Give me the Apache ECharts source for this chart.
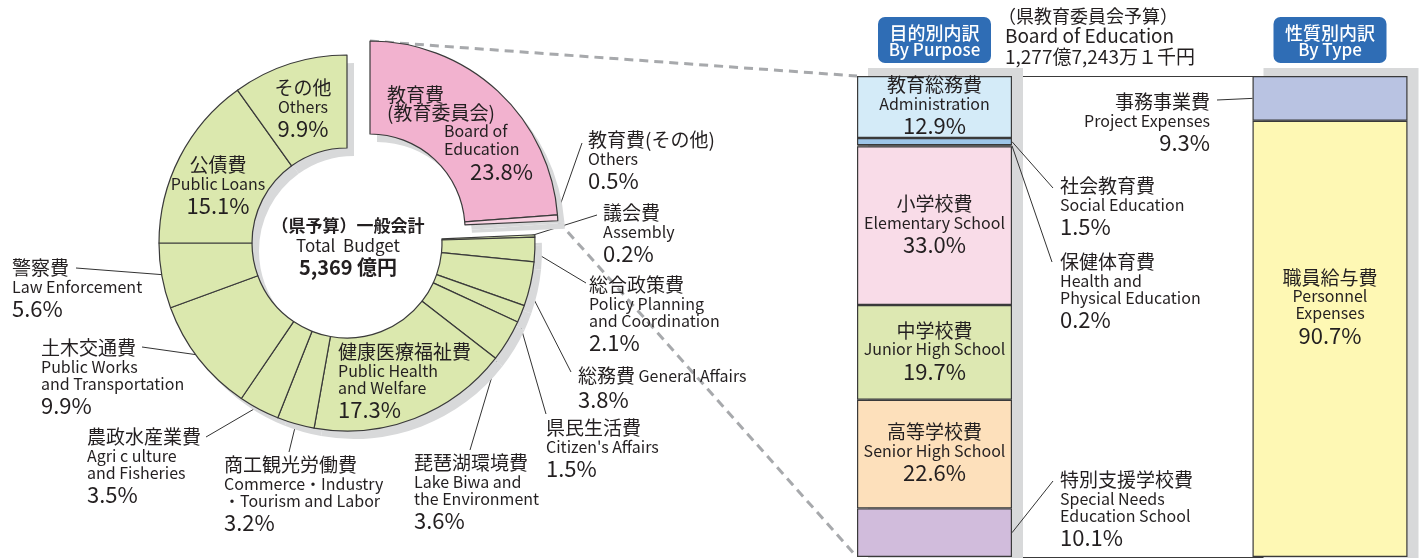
<!DOCTYPE html>
<html><head><meta charset="utf-8">
<script src="https://cdn.jsdelivr.net/npm/echarts@6/dist/echarts.min.js"></script>
<style>html,body{margin:0;padding:0;background:#fff}#c{width:1421px;height:558px}</style>
</head><body><div id="c"></div>
<script>
// ---------------- data ----------------
const pieJa = ['教育費\n(教育委員会)', '教育費(その他)', '議会費', '総合政策費', '総務費', '県民生活費', '琵琶湖環境費', '健康医療福祉費', '商工観光労働費', '農政水産業費', '土木交通費', '警察費', '公債費', 'その他'];
const pieEn = ['Board of\nEducation', 'Others', 'Assembly', 'Policy Planning\nand Coordination', 'General Affairs', "Citizen's Affairs", 'Lake Biwa and\nthe Environment', 'Public Health\nand Welfare', 'Commerce・Industry\n・Tourism and Labor', 'Agri c ulture\nand Fisheries', 'Public Works\nand Transportation', 'Law Enforcement', 'Public Loans', 'Others'];
const pieValues = [23.8, 0.5, 0.2, 2.1, 3.8, 1.5, 3.6, 17.3, 3.2, 3.5, 9.9, 5.6, 15.1, 9.9];
const educationCount = 2; // first items belong to the Board of Education slice group

const purposeJa = ['教育総務費', '社会教育費', '保健体育費', '小学校費', '中学校費', '高等学校費', '特別支援学校費'];
const purposeEn = ['Administration', 'Social Education', 'Health and\nPhysical Education', 'Elementary School', 'Junior High School', 'Senior High School', 'Special Needs\nEducation School'];
const purposeValues = [12.9, 1.5, 0.2, 33.0, 19.7, 22.6, 10.1];

const typeJa = ['事務事業費', '職員給与費'];
const typeEn = ['Project Expenses', 'Personnel\nExpenses'];
const typeValues = [9.3, 90.7];

const barCategories = ['目的別', '性質別'];
const centerTitle = ['（県予算）一般会計', 'Total  Budget', '5,369 億円'];
const boardTitle = ['（県教育委員会予算）', 'Board of Education', '1,277億7,243万１千円'];
const headerPurpose = ['目的別内訳', 'By Purpose'];
const headerType = ['性質別内訳', 'By Type'];

// ---------------- styles / layout ----------------
const FONT = '"Noto Sans CJK JP", "Noto Sans", sans-serif';
const TXT = '#231f20';
const EDGE = '#3a3a3a';
const GREEN = '#dbe8ae';
const PINKS = ['#f2b2cf', '#f8d2e2'];
const SHADOW = '#d8d9da';
const CLEAR = 'rgba(0,0,0,0)';
const PIE_C = [347, 243];
const PINK_C = [370, 229];
const SH = [7, 8];
const RADII = [95, 188];
const ANCHOR_R = 183;
const purposeColors = ['#d4ebf8', '#9ec5e8', '#6f8fb0', '#f9dce8', '#dde8b2', '#fde0bb', '#d1bcdc'];
const typeColors = ['#b9c3e2', '#fef8b4'];

const rich = {
  j: {fontFamily: FONT, fontSize: 19, lineHeight: 21, color: TXT},
  e: {fontFamily: FONT, fontSize: 16, lineHeight: 17, color: TXT},
  p: {fontFamily: FONT, fontSize: 22, lineHeight: 27, color: TXT},
  j0: {fontFamily: FONT, fontSize: 19, lineHeight: 18, color: TXT},
  e0: {fontFamily: FONT, fontSize: 16, lineHeight: 18, color: TXT, padding: [0, 0, 0, 57]},
  p0: {fontFamily: FONT, fontSize: 22, lineHeight: 28, color: TXT, padding: [0, 0, 0, 83]}
};

// label placement (first-line centre y)
const pieLabelPos = {
  0: {x: 387, y: 95, lh: 18},
  1: {x: 588, y: 140, end: [582, 143]},
  2: {x: 603, y: 213, end: [597, 215]},
  3: {x: 589, y: 285, end: [586, 283]},
  4: {x: 578, y: 376, end: [571, 372], inline: true},
  5: {x: 546, y: 428, end: [546, 414]},
  6: {x: 414, y: 463, end: [470, 450]},
  7: {x: 338, y: 352},
  8: {x: 224, y: 465, end: [289, 452]},
  9: {x: 87, y: 437, end: [206, 437]},
  10: {x: 41, y: 348, end: [142, 347]},
  11: {x: 12, y: 268, end: [76, 268]},
  12: {x: 218, y: 165, align: 'center'},
  13: {x: 303, y: 88, align: 'center'}
};
const barLabelPos = {
  '社会教育費': {x: 1060, y: 186, end: [1053, 188], side: 'right'},
  '保健体育費': {x: 1060, y: 262, end: [1052, 262], side: 'right'},
  '特別支援学校費': {x: 1060, y: 480, end: [1053, 481], side: 'right'},
  '事務事業費': {x: 1210, y: 102, end: [1217, 100], side: 'left', align: 'right'},
  '職員給与費': {dy: -31}
};

const total = pieValues.reduce((a, b) => a + b, 0);
function midAngle(i) {
  let s = 0;
  for (let k = 0; k < i; k++) s += pieValues[k];
  return (s + pieValues[i] / 2) / total * 2 * Math.PI;
}
const pct = v => v.toFixed(1) + '%';
const lines = (s, st) => s.split('\n').map(t => `{${st}|${t}}`).join('\n');

function pieText(i) {
  if (i === 0) return lines(pieJa[i], 'j0') + '\n' + lines(pieEn[i], 'e0') + `\n{p0|${pct(pieValues[i])}}`;
  if (pieLabelPos[i] && pieLabelPos[i].inline) return `{j|${pieJa[i]}} {e|${pieEn[i]}}\n{p|${pct(pieValues[i])}}`;
  return lines(pieJa[i], 'j') + '\n' + lines(pieEn[i], 'e') + `\n{p|${pct(pieValues[i])}}`;
}

function pieLayout(center, maxIndex, minIndex) {
  return function (params) {
    const i = params.dataIndex;
    if (i >= maxIndex || i < minIndex) return {};
    const pos = pieLabelPos[i];
    if (!pos) return {};
    const lh = pos.lh || 21;
    const res = {x: pos.x, y: pos.y - lh / 2, align: pos.align || 'left', verticalAlign: 'top'};
    if (pos.end) {
      const a = midAngle(i);
      const r = i < educationCount ? RADII[1] - 2 : ANCHOR_R;
      res.labelLinePoints = [[center[0] + r * Math.sin(a), center[1] - r * Math.cos(a)], pos.end];
    }
    return res;
  };
}

const isInside = i => pieLabelPos[i] && !pieLabelPos[i].end;
const restValue = pieValues.slice(educationCount).reduce((a, b) => a + b, 0);

const pieBase = {
  type: 'pie', radius: RADII, startAngle: 90, clockwise: true, silent: true,
  avoidLabelOverlap: false, animation: false, emphasis: {disabled: true}
};

const shadowMain = Object.assign({}, pieBase, {
  center: [PIE_C[0] + SH[0], PIE_C[1] + SH[1]], label: {show: false}, labelLine: {show: false},
  data: pieValues.map((v, i) => ({value: v, name: pieJa[i],
    itemStyle: {color: i < educationCount ? CLEAR : SHADOW, borderWidth: 0}}))
});
const shadowEdu = Object.assign({}, pieBase, {
  center: [PINK_C[0] + SH[0], PINK_C[1] + SH[1]], label: {show: false}, labelLine: {show: false},
  data: pieValues.slice(0, educationCount).map((v, i) => ({value: v, name: pieJa[i],
    itemStyle: {color: SHADOW, borderWidth: 0}}))
    .concat([{value: restValue, name: 'rest', itemStyle: {color: CLEAR, borderWidth: 0}}])
});

const mainPie = Object.assign({}, pieBase, {
  center: PIE_C,
  label: {show: true, overflow: 'none', fontFamily: FONT, fontSize: 16, color: TXT, rich: rich,
    formatter: p => pieText(p.dataIndex)},
  labelLine: {show: true, smooth: false, length: 10, length2: 10, lineStyle: {color: '#333', width: 1}},
  labelLayout: pieLayout(PIE_C, pieValues.length, educationCount),
  data: pieValues.map((v, i) => ({
    value: v, name: pieJa[i],
    itemStyle: i < educationCount ? {color: CLEAR, borderWidth: 0} : {color: GREEN, borderColor: EDGE, borderWidth: 1.2},
    label: {show: i >= educationCount, position: isInside(i) ? 'inside' : 'outside'},
    labelLine: {show: i >= educationCount && !isInside(i)}
  }))
});

const eduPie = Object.assign({}, pieBase, {
  center: PINK_C,
  label: {show: true, overflow: 'none', fontFamily: FONT, fontSize: 16, color: TXT, rich: rich,
    formatter: p => pieText(p.dataIndex)},
  labelLine: {show: true, smooth: false, length: 10, length2: 10, lineStyle: {color: '#333', width: 1}},
  labelLayout: pieLayout(PINK_C, educationCount, 0),
  data: pieValues.slice(0, educationCount).map((v, i) => ({
    value: v, name: pieJa[i],
    itemStyle: {color: PINKS[i], borderColor: EDGE, borderWidth: 1.2},
    label: {show: true, position: isInside(i) ? 'inside' : 'outside'},
    labelLine: {show: !isInside(i)}
  })).concat([{value: restValue, name: 'rest', itemStyle: {color: CLEAR, borderWidth: 0},
    label: {show: false}, labelLine: {show: false}}])
});

// ---------------- bars ----------------
const BAR_W = 155;
function barText(ja, en, v) {
  return lines(ja, 'j') + '\n' + lines(en, 'e') + `\n{p|${pct(v)}}`;
}
function barLayout(name) {
  return function () {
    const pos = barLabelPos[name];
    if (!pos) return {};
    if (pos.x == null) return {dy: pos.dy || 0};
    return {x: pos.x, y: pos.y - 10.5, align: pos.align || 'left', verticalAlign: 'top'};
  };
}
function barSeries(ja, en, v, color, idx) {
  const outside = !!(barLabelPos[ja] && barLabelPos[ja].x != null);
  const data = idx === 0 ? [v, '-'] : ['-', v];
  return {
    type: 'bar', name: ja, stack: 'budget', xAxisIndex: 0, yAxisIndex: 0, barWidth: BAR_W,
    silent: true, animation: false, data: data,
    itemStyle: {color: color, borderColor: EDGE, borderWidth: 1.2},
    label: {show: true, position: outside ? 'right' : 'inside', fontFamily: FONT, fontSize: 16, color: TXT,
      rich: rich, formatter: () => barText(ja, en, v)},
    labelLayout: barLayout(ja)
  };
}
const barList = purposeJa.map((n, i) => barSeries(n, purposeEn[i], purposeValues[i], purposeColors[i], 0))
  .concat(typeJa.map((n, i) => barSeries(n, typeEn[i], typeValues[i], typeColors[i], 1)));

const shadowBars = {
  type: 'bar', xAxisIndex: 2, yAxisIndex: 1, barWidth: BAR_W, silent: true, animation: false,
  data: barCategories.map(() => 100), itemStyle: {color: SHADOW}, z: 1
};

const option = {
  backgroundColor: '#fff',
  animation: false,
  grid: [
    {left: 934.5, right: 91, top: 76, bottom: 1},
    {left: 945.5, right: 80, top: 68, bottom: 0}
  ],
  xAxis: [
    {type: 'category', gridIndex: 0, data: barCategories, boundaryGap: false, position: 'top',
      axisLine: {show: true, lineStyle: {color: EDGE, width: 1}}, axisTick: {show: false}, axisLabel: {show: false}},
    {type: 'category', gridIndex: 0, data: barCategories, boundaryGap: false, position: 'bottom',
      axisLine: {show: true, lineStyle: {color: EDGE, width: 1}}, axisTick: {show: false}, axisLabel: {show: false}},
    {type: 'category', gridIndex: 1, data: barCategories, boundaryGap: false, show: false}
  ],
  yAxis: [
    {type: 'value', gridIndex: 0, min: 0, max: 100, inverse: true, show: false},
    {type: 'value', gridIndex: 1, min: 0, max: 100, inverse: true, show: false}
  ],
  series: [shadowMain, shadowEdu, shadowBars, mainPie, eduPie].concat(barList)
};

const chart = echarts.init(document.getElementById('c'));
chart.setOption(option);

// ---------------- annotations derived from geometry ----------------
const p0 = chart.convertToPixel({gridIndex: 0}, [0, 0]);
const p100 = chart.convertToPixel({gridIndex: 0}, [0, 100]);
const t0 = chart.convertToPixel({gridIndex: 0}, [1, 0]);
const barLeft = p0[0] - BAR_W / 2;
const eduEnd = pieValues.slice(0, educationCount).reduce((a, b) => a + b, 0) / total * 2 * Math.PI;
const topCorner = [PINK_C[0], PINK_C[1] - RADII[1]];
const botCorner = [PINK_C[0] + RADII[1] * Math.sin(eduEnd), PINK_C[1] - RADII[1] * Math.cos(eduEnd)];

// leader lines of bar labels, anchored at the middle of each segment
function barLeaders(names, values, catIndex) {
  const out = [];
  let s = 0;
  names.forEach((n, i) => {
    const pos = barLabelPos[n];
    const mid = s + values[i] / 2;
    s += values[i];
    if (!pos || !pos.end) return;
    const c = chart.convertToPixel({gridIndex: 0}, [catIndex, mid]);
    const ax = pos.side === 'right' ? c[0] + BAR_W / 2 : c[0] - BAR_W / 2;
    out.push({type: 'line', z: 40, shape: {x1: ax, y1: c[1], x2: pos.end[0], y2: pos.end[1]},
      style: {stroke: '#333', lineWidth: 1}});
  });
  return out;
}

function header(cx, lbl) {
  return [
    {type: 'rect', z: 50, shape: {x: cx - 56.5, y: 17, width: 113, height: 46, r: 7}, style: {fill: '#2f6db5'}},
    {type: 'text', z: 51, x: cx, y: 33, style: {text: lbl[0], font: '500 18px ' + FONT, fill: '#fff', align: 'center', verticalAlign: 'middle'}},
    {type: 'text', z: 51, x: cx, y: 50, style: {text: lbl[1], font: '500 17px ' + FONT, fill: '#fff', align: 'center', verticalAlign: 'middle'}}
  ];
}

chart.setOption({
  graphic: [
    {type: 'line', z: 1, shape: {x1: topCorner[0], y1: topCorner[1], x2: barLeft, y2: p0[1]},
      style: {stroke: '#a7a9ac', lineWidth: 3, lineDash: [9, 6]}},
    {type: 'line', z: 1, shape: {x1: botCorner[0], y1: botCorner[1], x2: barLeft, y2: p100[1]},
      style: {stroke: '#a7a9ac', lineWidth: 3, lineDash: [9, 6]}},
    {type: 'text', z: 60, x: PIE_C[0] + 1, y: PIE_C[1] + 4, style: {
      text: `{a|${centerTitle[0]}}\n{b|${centerTitle[1]}}\n{c|${centerTitle[2]}}`,
      align: 'center', verticalAlign: 'middle', fill: TXT,
      rich: {
        a: {font: 'bold 17px ' + FONT, lineHeight: 20, fill: TXT},
        b: {font: '17px ' + FONT, lineHeight: 20, fill: TXT},
        c: {font: 'bold 20px ' + FONT, lineHeight: 22, fill: TXT}
      }}},
    {type: 'text', z: 60, x: 998, y: 16, style: {text: boardTitle[0], font: '18px ' + FONT, fill: TXT, align: 'left', verticalAlign: 'middle'}},
    {type: 'text', z: 60, x: 1005, y: 36, style: {text: boardTitle[1], font: '19px ' + FONT, fill: TXT, align: 'left', verticalAlign: 'middle'}},
    {type: 'text', z: 60, x: 1005, y: 57, style: {text: boardTitle[2], font: '19px ' + FONT, fill: TXT, align: 'left', verticalAlign: 'middle'}}
  ].concat(header(p0[0], headerPurpose)).concat(header(t0[0], headerType))
    .concat(barLeaders(purposeJa, purposeValues, 0)).concat(barLeaders(typeJa, typeValues, 1))
});
</script>
</body></html>
